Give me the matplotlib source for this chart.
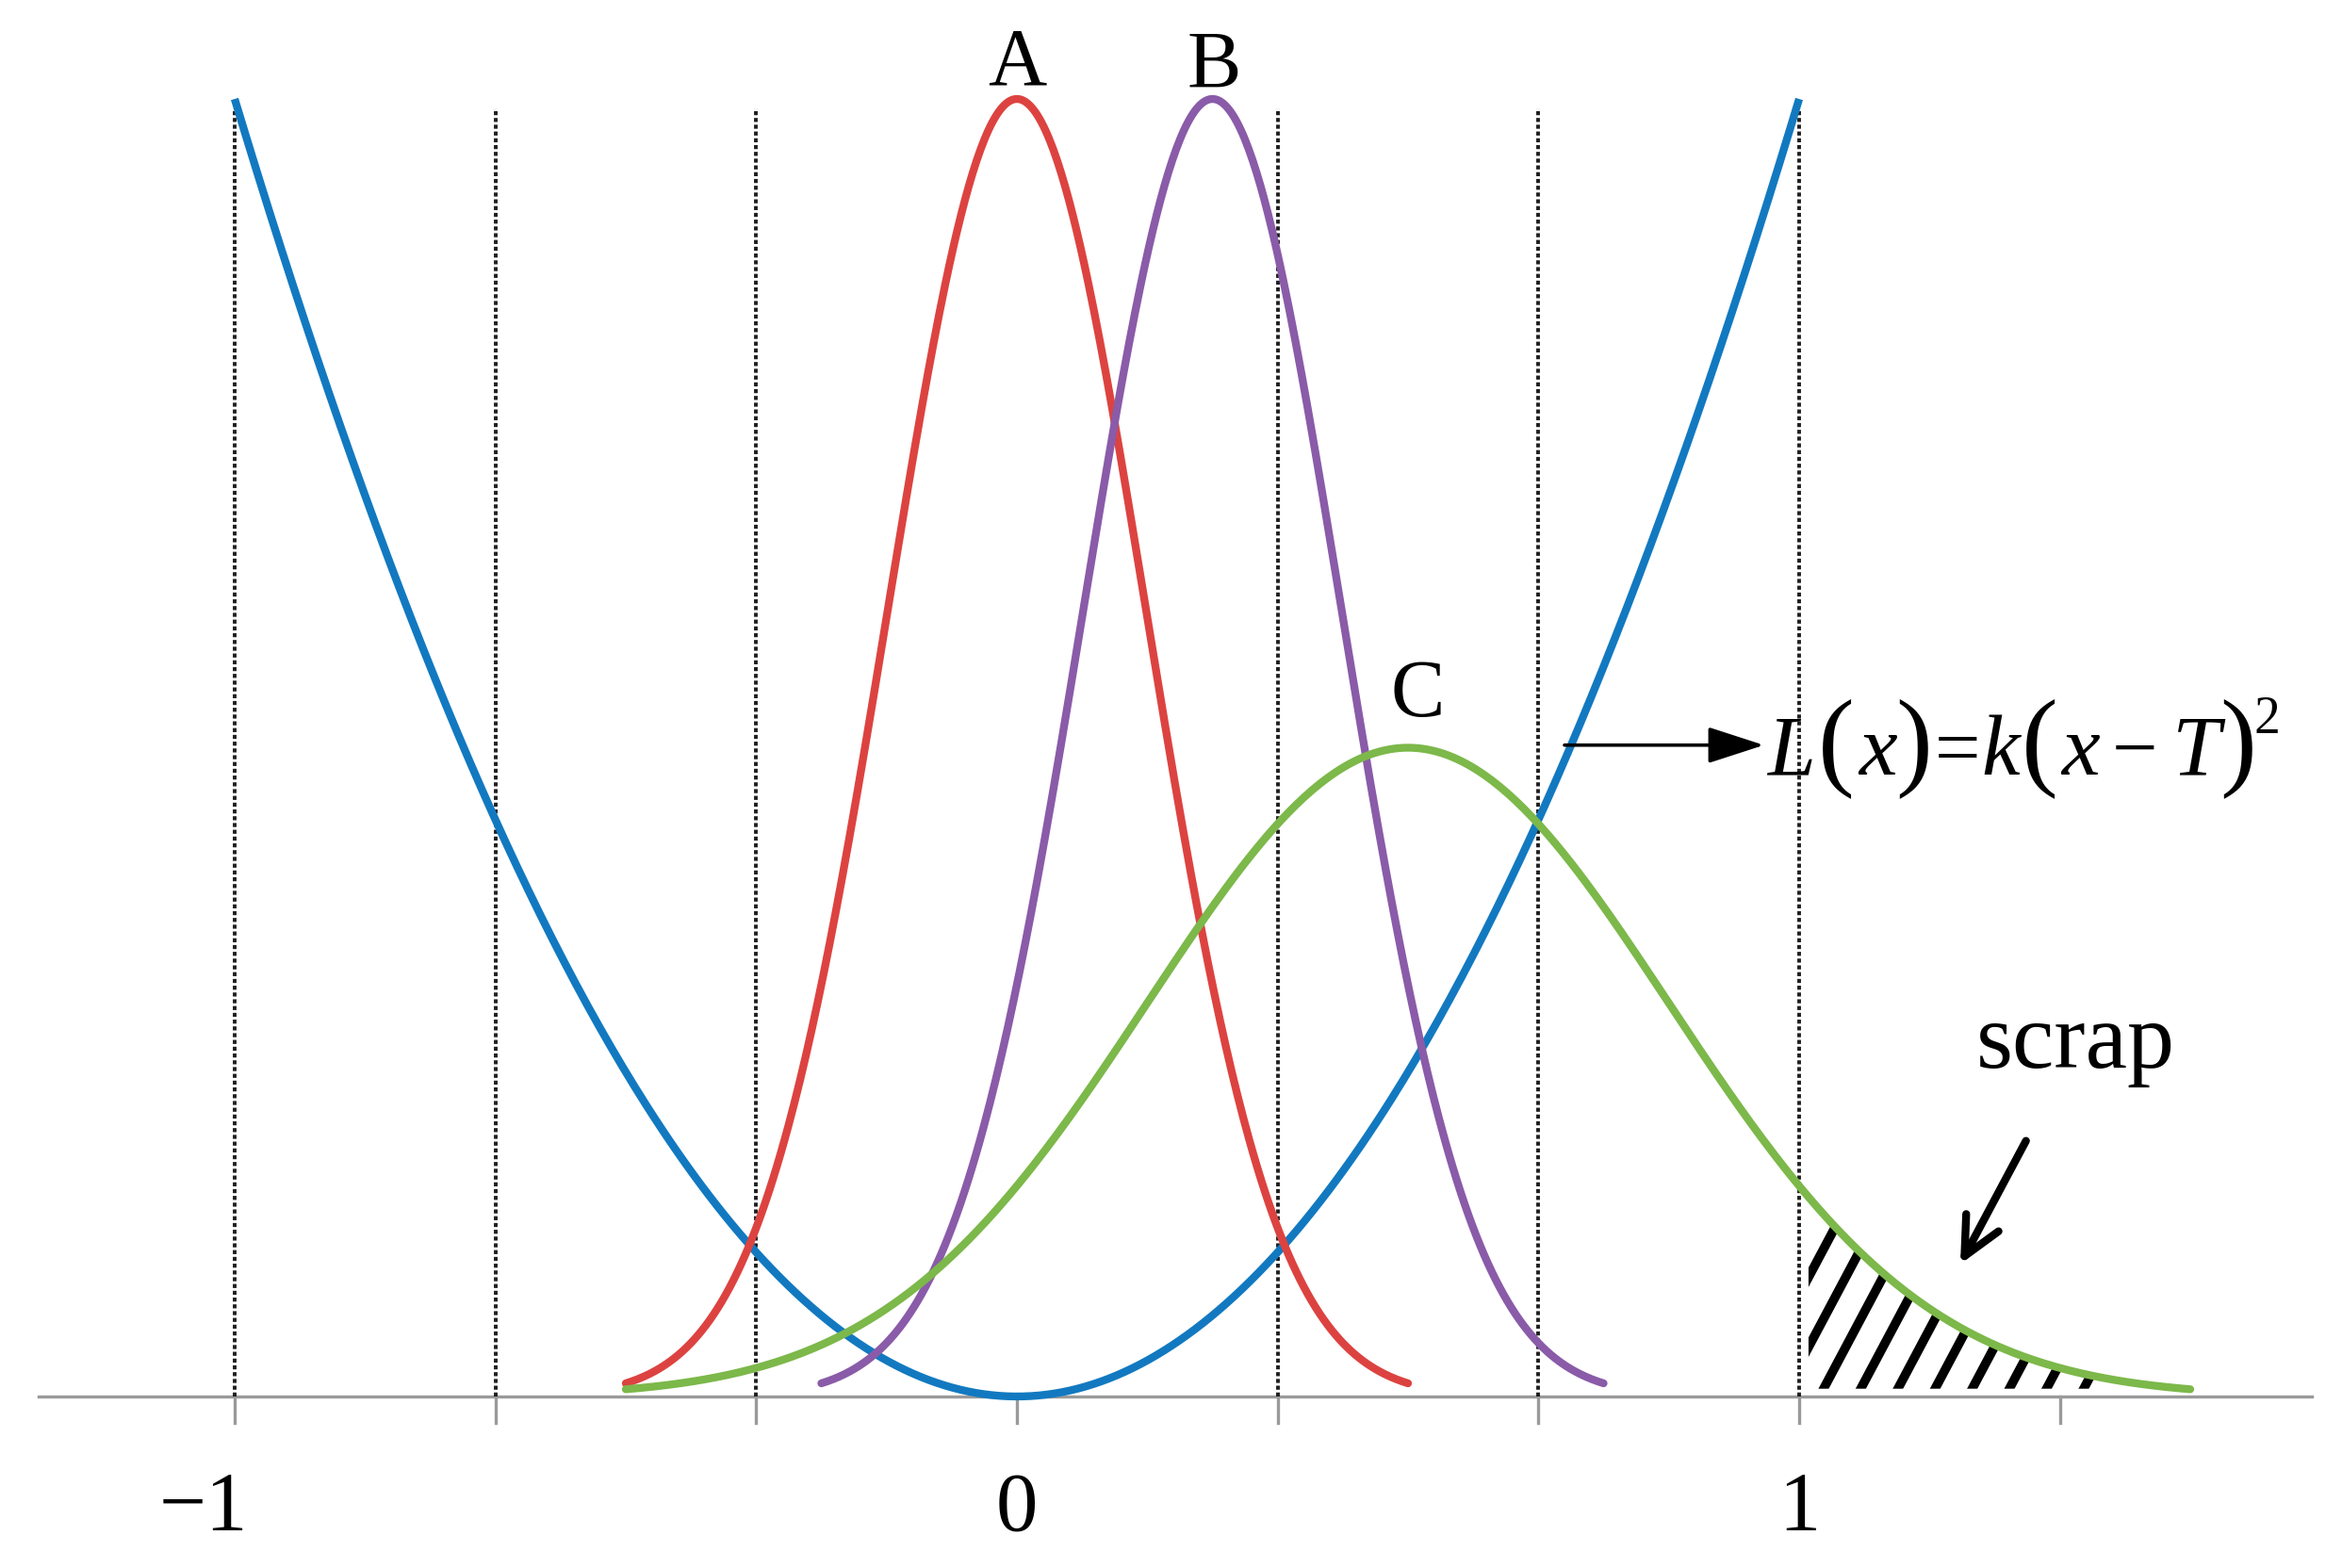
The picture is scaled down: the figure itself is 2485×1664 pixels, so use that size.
import numpy as np
import matplotlib
matplotlib.use("Agg")
import matplotlib.pyplot as plt
from matplotlib.patches import Polygon

plt.rcParams['font.family'] = ['Liberation Serif', 'DejaVu Serif']

# bell curves A, B, C (mean, sigma, peak height, drawn range)
curve_names = ['A', 'B', 'C']
curve_means = [0.0, 0.25, 0.5]
curve_sigmas = [0.165, 0.165, 1 / 3]
curve_peaks = [1.0, 1.0, 0.5]
curve_start = [-0.5, -0.25, -0.5]
curve_end = [0.5, 0.75, 1.5]
curve_colors = ['#dc4340', '#8a5ba8', '#7cb84a']
label_x = [0.0, 0.252, 0.512]
label_y = [1.027, 1.025, 0.54]

# loss function L(x) = k (x - T)^2
loss_k = 1.0
loss_T = 0.0
loss_range = [-1.0, 1.0]
loss_color = '#1279c0'

# guide lines and ticks
guide_x = [-1, -2 / 3, -1 / 3, 1 / 3, 2 / 3, 1]
tick_x = [-1, -2 / 3, -1 / 3, 0, 1 / 3, 2 / 3, 1, 4 / 3]
tick_labels = ['\u22121', '0', '1']
tick_label_x = [-1.04, 0.0, 1.0]

# scrap area (under C beyond the upper limit)
scrap_from = 1.012
scrap_to = 1.385


def bell(x, m, s, h):
    return h * np.exp(-(x - m) ** 2 / (2 * s ** 2))


fig = plt.figure(figsize=(24.85, 16.65), dpi=100)
ax = fig.add_axes([0, 0, 1, 1])
ax.set_xlim(-1.3, 1.694)
ax.set_ylim(-0.1322, 1.077)
ax.axis('off')

# x axis
ax.plot([-1.25, 1.655], [0, 0], color='#9a9a9a', lw=2.4, zorder=1)
for t in tick_x:
    ax.plot([t, t], [0, -0.02], color='#9a9a9a', lw=2.4, zorder=1)
for t in guide_x:
    ax.plot([t, t], [0, 0.993], color='#1e1e1e', lw=2.8,
            linestyle=(0, (1.1, 0.75)), zorder=1)
for lab, t in zip(tick_labels, tick_label_x):
    ax.text(t, -0.102, lab, ha='center', va='baseline', fontsize=64)

# loss parabola
xs = np.linspace(loss_range[0], loss_range[1], 400)
ax.plot(xs, loss_k * (xs - loss_T) ** 2, color=loss_color, lw=6,
        solid_capstyle='butt', zorder=3)

# bell curves
for name, m, s, h, a, b, c, lx, ly in zip(curve_names, curve_means, curve_sigmas,
                                          curve_peaks, curve_start, curve_end,
                                          curve_colors, label_x, label_y):
    xs = np.linspace(a, b, 400)
    ax.plot(xs, bell(xs, m, s, h), color=c, lw=6, solid_capstyle='round', zorder=3)
    ax.text(lx, ly, name, ha='center', va='center', fontsize=62)

# hatched scrap region
m, s, h = curve_means[2], curve_sigmas[2], curve_peaks[2]
xr = np.linspace(scrap_from, scrap_to, 100)
poly = np.vstack([np.column_stack([xr, bell(xr, m, s, h)]),
                  [[scrap_to, 0.006], [scrap_from, 0.006]]])
clip = Polygon(poly, closed=True, facecolor='none', edgecolor='none')
ax.add_patch(clip)
slope = 1.134
for x0 in np.arange(0.931, 1.40, 0.0475):
    ln, = ax.plot([x0, x0 + 0.3], [0, 0.3 * slope], color='black', lw=7,
                  solid_capstyle='butt', zorder=2)
    ln.set_clip_path(clip)

ax.annotate('', xy=(1.206, 0.102), xytext=(1.290, 0.197),
            arrowprops=dict(arrowstyle='->,head_length=29,head_width=14',
                            mutation_scale=1, lw=6, color='black',
                            shrinkA=0, shrinkB=0), zorder=4)
ax.text(1.354, 0.254, 'scrap', ha='center', va='baseline', fontsize=72)

# formula arrow and label
ax.annotate('', xy=(0.955, 0.502), xytext=(0.700, 0.502),
            arrowprops=dict(arrowstyle='-|>,head_length=37,head_width=12',
                            mutation_scale=1, lw=2.6, color='black',
                            shrinkA=0, shrinkB=0), zorder=4)

pieces = ['L', '(', 'x', ')', '=', 'k', '(', 'x', '\u2212', 'T', ')', '2']
piece_x = [0.990, 1.047, 1.101, 1.146, 1.203, 1.257, 1.308, 1.359, 1.429,
           1.508, 1.561, 1.598]
for p, px in zip(pieces, piece_x):
    if p in '()':
        ax.text(px, 0.50, p, ha='center', va='center', fontsize=84)
    elif p == '2':
        ax.text(px, 0.512, p, ha='center', va='baseline', fontsize=40)
    elif p in '=\u2212':
        ax.text(px, 0.480, p, ha='center', va='baseline', fontsize=62)
    else:
        ax.text(px, 0.480, p, ha='center', va='baseline', fontsize=66,
                style='italic')

fig.savefig('out.png', dpi=100)
